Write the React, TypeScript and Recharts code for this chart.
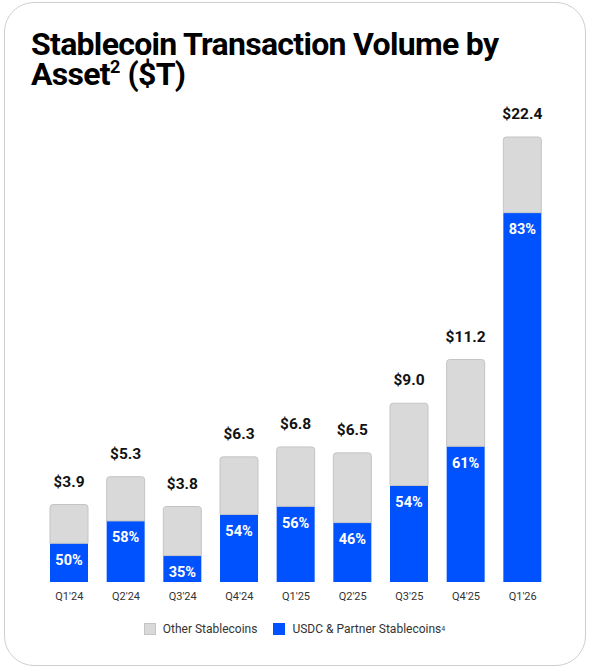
import { BarChart, Bar, XAxis, YAxis, LabelList } from 'recharts'

const quarters = ["Q1'24", "Q2'24", "Q3'24", "Q4'24", "Q1'25", "Q2'25", "Q3'25", "Q4'25", "Q1'26"]
const totals = [3.9, 5.3, 3.8, 6.3, 6.8, 6.5, 9.0, 11.2, 22.4]
const usdcShare = [50, 58, 35, 54, 56, 46, 54, 61, 83]

const BLUE = '#0052ff'
const GRAY = '#d9d9d9'

const data = quarters.map((q, i) => {
  const usdc = (totals[i] * usdcShare[i]) / 100
  return { q, total: totals[i], share: usdcShare[i], usdc, other: totals[i] - usdc }
})

const font = 'Roboto, "Noto Sans", sans-serif'

const TotalLabel = (props: any) => {
  const { x, y, width, value } = props
  return (
    <text
      x={x + width / 2}
      y={y - 18}
      textAnchor="middle"
      fontFamily={font}
      fontSize={15.5}
      fontWeight={700}
      fill="#111"
      stroke="#fff"
      strokeWidth={3}
      paintOrder="stroke"
    >
      ${Number(value).toFixed(1)}
    </text>
  )
}

const ShareLabel = (props: any) => {
  const { x, y, width, value } = props
  return (
    <text
      x={x + width / 2}
      y={y + 21.5}
      textAnchor="middle"
      fontFamily={font}
      fontSize={14.5}
      fontWeight={700}
      fill="#fff"
    >
      {value}%
    </text>
  )
}

const titleLine = {
  height: 30, lineHeight: '30px', overflow: 'visible' as const, whiteSpace: 'nowrap' as const,
}

export default function App() {
  return (
    <div style={{ position: 'fixed', left: 0, top: 0, width: 589, height: 669, background: '#fff', fontFamily: font }}>
      <div style={{
        position: 'absolute', left: 4, top: 2, width: 582, height: 664,
        border: '1.5px solid #cfcfcf', borderRadius: 30, boxSizing: 'border-box',
      }} />
      <div style={{
        position: 'absolute', left: 31, top: 29, width: 500,
        fontSize: 32, fontWeight: 700, color: '#000', letterSpacing: -0.7,
      }}>
        <div style={titleLine}>Stablecoin Transaction Volume by</div>
        <div style={titleLine}>
          Asset<sup style={{ fontSize: 18, lineHeight: 0, verticalAlign: 12, letterSpacing: 0 }}>2</sup> ($T)
        </div>
      </div>
      <div style={{ position: 'absolute', left: 0, top: 0 }}>
        <BarChart width={589} height={669} data={data} margin={{ top: 137, right: 38, left: 41, bottom: 57 }} barSize={38}>
          <XAxis
            dataKey="q"
            axisLine={false}
            tickLine={false}
            height={30}
            tick={{ fill: '#333', fontSize: 11, fontFamily: font }}
            tickMargin={4}
          />
          <YAxis hide domain={[0, 22.4]} />
          <Bar dataKey="usdc" stackId="a" fill={BLUE} isAnimationActive={false}>
            <LabelList dataKey="share" content={ShareLabel} />
          </Bar>
          <Bar dataKey="other" stackId="a" fill={GRAY} stroke="#c4c4c4" strokeWidth={1} radius={[3, 3, 0, 0]} isAnimationActive={false}>
            <LabelList dataKey="total" content={TotalLabel} />
          </Bar>
        </BarChart>
      </div>
      <div style={{
        position: 'absolute', left: 0, top: 622, width: 589, display: 'flex', justifyContent: 'center',
        alignItems: 'center', fontSize: 12, color: '#333', gap: 16,
      }}>
        <span style={{ display: 'flex', alignItems: 'center' }}>
          <span style={{ width: 12, height: 12, background: GRAY, border: '1px solid #c4c4c4', boxSizing: 'border-box', marginRight: 7 }} />
          Other Stablecoins
        </span>
        <span style={{ display: 'flex', alignItems: 'center' }}>
          <span style={{ width: 12, height: 12, background: BLUE, marginRight: 7 }} />
          USDC &amp; Partner Stablecoins<sup style={{ fontSize: 7, lineHeight: 0, verticalAlign: 6 }}>4</sup>
        </span>
      </div>
    </div>
  )
}
